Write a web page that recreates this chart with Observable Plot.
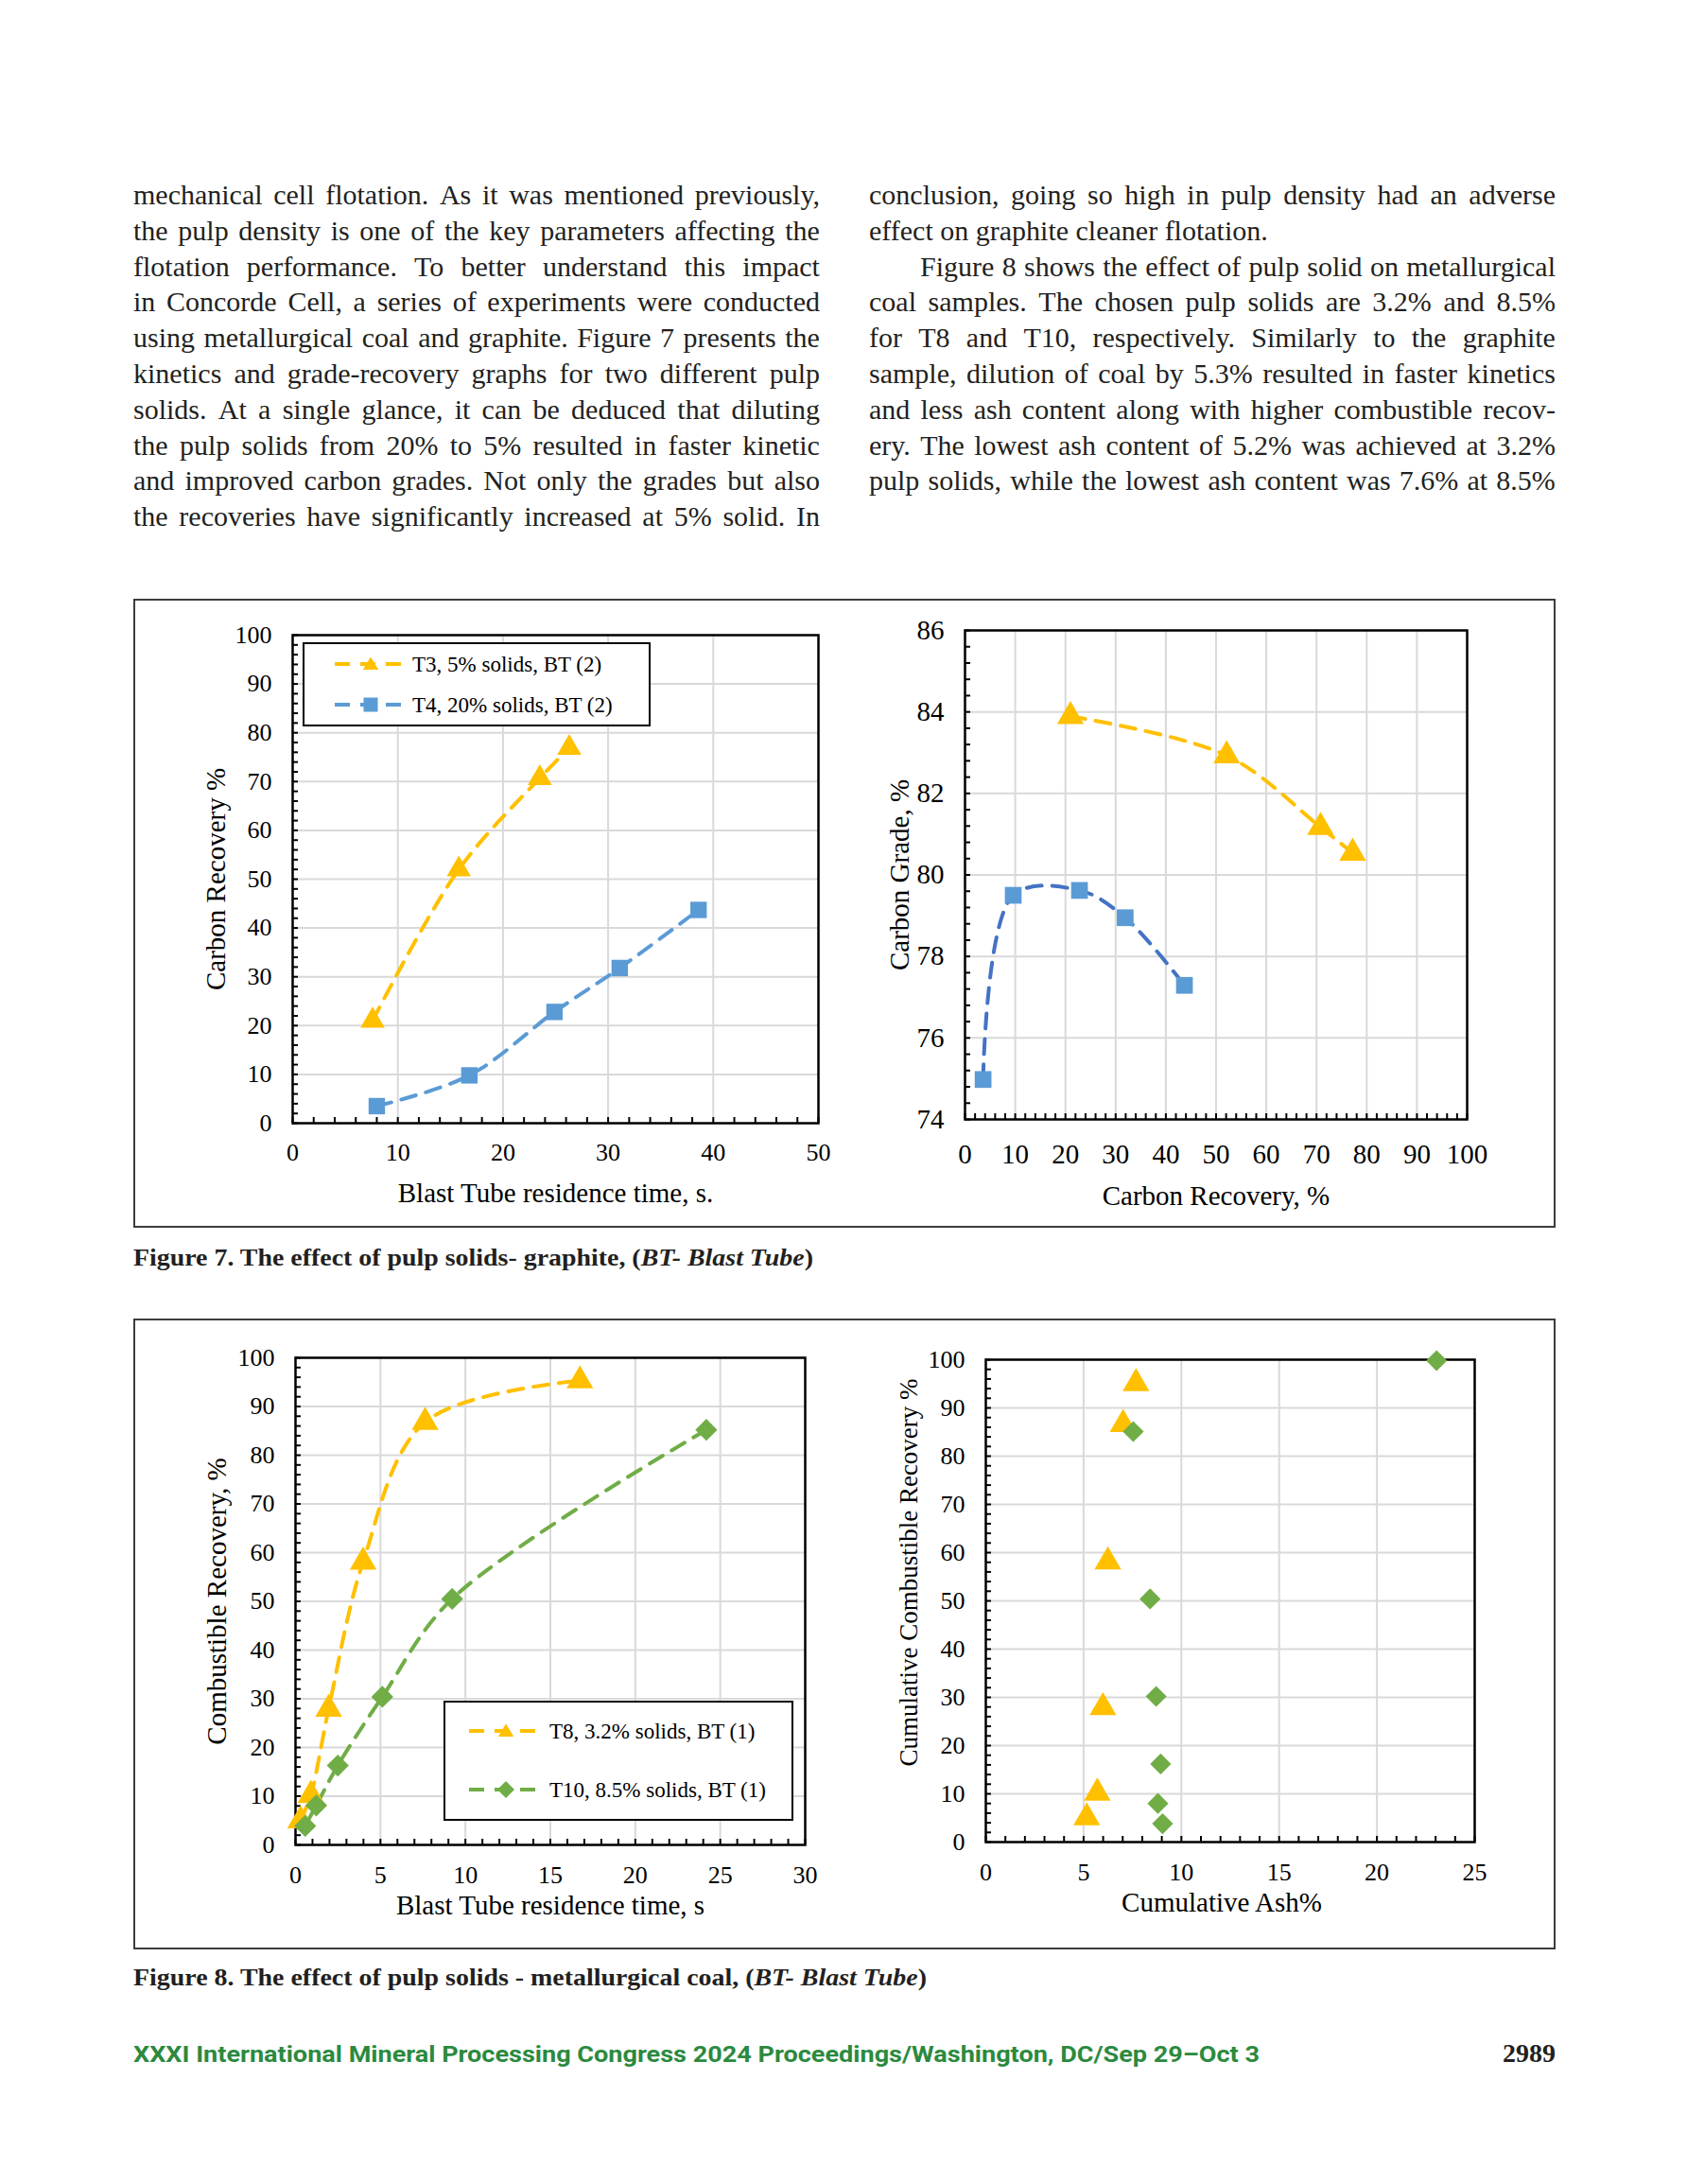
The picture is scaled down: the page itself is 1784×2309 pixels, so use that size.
<!DOCTYPE html>
<html>
<head>
<meta charset="utf-8">
<script src="https://cdn.jsdelivr.net/npm/d3@7"></script>
<script src="https://cdn.jsdelivr.net/npm/@observablehq/plot@0.6"></script>
<style>
  html, body { margin: 0; padding: 0; background: #fff; }
  #page { position: relative; width: 1784px; height: 2309px; background: #fff; overflow: hidden;
          font-family: "Liberation Serif", "Times New Roman", serif; color: #231f20; }
  .col { position: absolute; width: 726px; }
  .line { display: flex; justify-content: space-between; white-space: nowrap; height: 37.8px;
          line-height: 37.8px; font-size: 30px; box-sizing: border-box; }
  .line.last { justify-content: flex-start; gap: 0.25em; }
  .line.indent { padding-left: 54px; }
  .figbox { position: absolute; border: 2px solid #3c3c3c; box-sizing: border-box; }
  .caption { position: absolute; font-weight: bold; font-size: 25px; white-space: nowrap; transform-origin: left center; }
  .chart { position: absolute; }
  .legend { position: absolute; }
  #footer { position: absolute; left: 141px; font-family: Roboto, "Noto Sans", sans-serif; font-weight: 700;
            color: #2b8a3e; font-size: 24px; white-space: nowrap; transform-origin: left center; }
  #pageno { position: absolute; right: 139px; font-weight: bold; font-size: 28px; }
</style>
</head>
<body>
<div id="page"></div>
<script>
// ---------------- Text ----------------
const col1Lines = [
  "mechanical cell flotation. As it was mentioned previously,",
  "the pulp density is one of the key parameters affecting the",
  "flotation performance. To better understand this impact",
  "in Concorde Cell, a series of experiments were conducted",
  "using metallurgical coal and graphite. Figure 7 presents the",
  "kinetics and grade-recovery graphs for two different pulp",
  "solids. At a single glance, it can be deduced that diluting",
  "the pulp solids from 20% to 5% resulted in faster kinetic",
  "and improved carbon grades. Not only the grades but also",
  "the recoveries have significantly increased at 5% solid. In"
];
const col2Lines = [
  "conclusion, going so high in pulp density had an adverse",
  "effect on graphite cleaner flotation.",
  "Figure 8 shows the effect of pulp solid on metallurgical",
  "coal samples. The chosen pulp solids are 3.2% and 8.5%",
  "for T8 and T10, respectively. Similarly to the graphite",
  "sample, dilution of coal by 5.3% resulted in faster kinetics",
  "and less ash content along with higher combustible recov-",
  "ery. The lowest ash content of 5.2% was achieved at 3.2%",
  "pulp solids, while the lowest ash content was 7.6% at 8.5%"
];
const col2LastLines = [1];
const col2IndentLines = [2];
const caption7 = ["Figure 7. The effect of pulp solids- graphite, (", "BT- Blast Tube", ")"];
const caption8 = ["Figure 8. The effect of pulp solids - metallurgical coal, (", "BT- Blast Tube", ")"];
const footerText = "XXXI International Mineral Processing Congress 2024 Proceedings/Washington, DC/Sep 29–Oct 3";
const pageNumber = "2989";

// ---------------- Data: Figure 7 (graphite) ----------------
const seriesT3 = "T3, 5% solids, BT (2)";
const seriesT4 = "T4, 20% solids, BT (2)";
const kinTimeT3 = [7.6, 15.8, 23.5, 26.3];
const kinRecT3  = [21.0, 52.0, 70.7, 76.9];
const kinTimeT4 = [8.0, 16.8, 24.9, 31.1, 38.6];
const kinRecT4  = [3.5, 9.8, 22.8, 31.8, 43.7];
const grRecT3   = [21.0, 52.1, 70.8, 77.2];
const grGradeT3 = [83.89, 82.93, 81.17, 80.54];
const grRecT4   = [3.6, 9.6, 22.8, 31.9, 43.7];
const grGradeT4 = [74.98, 79.5, 79.62, 78.95, 77.29];

// ---------------- Data: Figure 8 (metallurgical coal) ----------------
const seriesT8 = "T8, 3.2% solids, BT (1)";
const seriesT10 = "T10, 8.5% solids, BT (1)";
const kinTimeT8  = [0.3, 0.9, 1.95, 3.98, 7.63, 16.74];
const kinRecT8   = [5.0, 10.2, 27.9, 58.1, 86.8, 95.3];
const kinTimeT10 = [0.57, 1.22, 2.49, 5.11, 9.22, 24.18];
const kinRecT10  = [3.9, 8.1, 16.3, 30.4, 50.5, 85.2];
const ashT8      = [5.16, 5.7, 5.99, 6.24, 7.02, 7.68];
const cumRecT8   = [5.1, 10.2, 27.9, 58.1, 86.6, 95.1];
const ashT10     = [9.04, 8.8, 8.94, 8.71, 8.4, 7.54, 23.05];
const cumRecT10  = [3.8, 8.0, 16.2, 30.2, 50.4, 85.1, 99.8];

// ---------------- Axis ticks ----------------
const c1xTicks = [0, 10, 20, 30, 40, 50];
const c1yTicks = [0, 10, 20, 30, 40, 50, 60, 70, 80, 90, 100];
const c2xTicks = [0, 10, 20, 30, 40, 50, 60, 70, 80, 90, 100];
const c2yTicks = [74, 76, 78, 80, 82, 84, 86];
const c3xTicks = [0, 5, 10, 15, 20, 25, 30];
const c3yTicks = [0, 10, 20, 30, 40, 50, 60, 70, 80, 90, 100];
const c4xTicks = [0, 5, 10, 15, 20, 25];
const c4yTicks = [0, 10, 20, 30, 40, 50, 60, 70, 80, 90, 100];

// colours
const ORANGE = "#FFC000", BLUE = "#5B9BD5", BLUE_DARK = "#4472C4", GREEN = "#70AD47";

const page = document.getElementById("page");

// ---------------- Body text ----------------
function addColumn(lines, left, lastIdx, indentIdx) {
  const col = document.createElement("div");
  col.className = "col";
  col.style.left = left + "px";
  col.style.top = "187px";
  lines.forEach((txt, i) => {
    const ln = document.createElement("div");
    ln.className = "line";
    if (lastIdx.includes(i)) ln.classList.add("last");
    if (indentIdx.includes(i)) ln.classList.add("indent");
    txt.split(" ").forEach(w => {
      const s = document.createElement("span");
      s.textContent = w;
      ln.appendChild(s);
    });
    col.appendChild(ln);
  });
  page.appendChild(col);
  // shrink any line whose words would not fit with a minimal word gap
  col.querySelectorAll(".line").forEach(ln => {
    const spans = [...ln.children];
    const avail = 726 - (ln.classList.contains("indent") ? 54 : 0);
    const fs = 30;
    const total = spans.reduce((s, e) => s + e.getBoundingClientRect().width, 0);
    const need = total + fs * 0.18 * (spans.length - 1);
    if (need > avail) ln.style.fontSize = (fs * avail / need) + "px";
  });
}
addColumn(col1Lines, 141, [], []);
addColumn(col2Lines, 919, col2LastLines, col2IndentLines);

// ---------------- Figure boxes & captions ----------------
function box(left, top, w, h) {
  const b = document.createElement("div");
  b.className = "figbox";
  Object.assign(b.style, {left: left + "px", top: top + "px", width: w + "px", height: h + "px"});
  page.appendChild(b);
}
box(141, 633, 1504, 665);
box(141, 1394, 1504, 667);

function caption(parts, top, targetW) {
  const c = document.createElement("div");
  c.className = "caption";
  c.style.left = "141px";
  c.style.top = top + "px";
  const a = document.createElement("span"); a.textContent = parts[0];
  const b = document.createElement("i"); b.textContent = parts[1];
  const d = document.createElement("span"); d.textContent = parts[2];
  c.append(a, b, d);
  page.appendChild(c);
  const w = c.getBoundingClientRect().width;
  c.style.transform = `scaleX(${targetW / w})`;
}

// ---------------- Charts ----------------
function makeChart(cfg) {
  const pw = cfg.width - cfg.ml - cfg.mr, ph = cfg.height - cfg.mt - cfg.mb;
  const xs = cfg.xDomain[1] - cfg.xDomain[0], ys = cfg.yDomain[1] - cfg.yDomain[0];
  const tl = 6;
  const inner = (arr, dom) => arr.filter(v => v > dom[0] && v < dom[1]);
  const marks = [
    Plot.ruleX(inner(cfg.xTicks, cfg.xDomain), {x: d => d, stroke: "#d9d9d9", strokeWidth: 2}),
    Plot.ruleY(inner(cfg.yTicks, cfg.yDomain), {y: d => d, stroke: "#d9d9d9", strokeWidth: 2}),
    Plot.frame({stroke: "#000", strokeWidth: 2.5}),
    Plot.ruleX(cfg.xMinor, {x: d => d, y1: cfg.yDomain[0], y2: cfg.yDomain[0] + tl * ys / ph, stroke: "#000", strokeWidth: 2}),
    Plot.ruleY(cfg.yMinor, {y: d => d, x1: cfg.xDomain[0], x2: cfg.xDomain[0] + tl * xs / pw, stroke: "#000", strokeWidth: 2}),
    Plot.axisX({ticks: cfg.xTicks, tickSize: 0, tickPadding: cfg.xPad, fontSize: cfg.tickFont, label: null, tickFormat: d => String(d), fill: "#000"}),
    Plot.axisY({ticks: cfg.yTicks, tickSize: 0, tickPadding: cfg.yPad, fontSize: cfg.tickFont, label: null, tickFormat: d => String(d), fill: "#000"}),
    Plot.text([cfg.xTitle], {frameAnchor: "bottom", dy: cfg.xTitleDy, dx: cfg.xTitleDx || 0, fontSize: cfg.xTitleFont, fill: "#000",
      textAnchor: "middle", lineAnchor: "middle", text: d => d}),
    Plot.text([cfg.yTitle], {frameAnchor: "left", rotate: -90, dx: cfg.yTitleDx, dy: cfg.yTitleDy || 0, fontSize: cfg.yTitleFont, fill: "#000",
      textAnchor: "middle", lineAnchor: "middle", text: d => d}),
  ];
  for (const s of cfg.series) {
    const data = d3.zip(s.x, s.y).map(([x, y]) => ({x, y}));
    if (s.line) marks.push(Plot.line(data, {x: "x", y: "y", curve: "catmull-rom", stroke: s.lineColor || s.color,
      strokeWidth: 4, strokeDasharray: "16,11"}));
  }
  for (const s of cfg.series) {
    const data = d3.zip(s.x, s.y).map(([x, y]) => ({x, y}));
    marks.push(Plot.dot(data, {x: "x", y: "y", symbol: s.symbol, r: s.r, fill: s.color, stroke: "none"}));
  }
  const svg = Plot.plot({
    width: cfg.width, height: cfg.height,
    marginLeft: cfg.ml, marginRight: cfg.mr, marginTop: cfg.mt, marginBottom: cfg.mb,
    x: {domain: cfg.xDomain},
    y: {domain: cfg.yDomain},
    style: {fontFamily: "'Liberation Serif', 'Times New Roman', serif", fontSize: cfg.tickFont + "px",
            color: "#000", background: "transparent", overflow: "visible"},
    marks
  });
  const wrap = document.createElement("div");
  wrap.className = "chart";
  wrap.style.left = cfg.left + "px";
  wrap.style.top = cfg.top + "px";
  wrap.appendChild(svg);
  page.appendChild(wrap);
}

const range = (a, b, s) => d3.range(a, b + s / 2, s).map(v => +v.toFixed(4));

// Chart 1: kinetics graphite
makeChart({
  left: 150, top: 640, width: 740, height: 640, ml: 159, mr: 25, mt: 31, mb: 93,
  xDomain: [0, 50], yDomain: [0, 100], xTicks: c1xTicks, yTicks: c1yTicks,
  xMinor: range(0, 50, 2), yMinor: range(0, 100, 2),
  tickFont: 26, xPad: 21, yPad: 22,
  xTitle: "Blast Tube residence time, s.", xTitleDy: 74, xTitleFont: 29,
  yTitle: "Carbon Recovery %", yTitleDx: -81, yTitleFont: 29,
  series: [
    {x: kinTimeT3, y: kinRecT3, color: ORANGE, symbol: "triangle", r: 9.5, line: true},
    {x: kinTimeT4, y: kinRecT4, color: BLUE, symbol: "square", r: 9.8, line: true}
  ]
});

// Chart 2: grade-recovery graphite
makeChart({
  left: 900, top: 640, width: 740, height: 640, ml: 120, mr: 89, mt: 26, mb: 97,
  xDomain: [0, 100], yDomain: [74, 86], xTicks: c2xTicks, yTicks: c2yTicks,
  xMinor: range(0, 100, 2), yMinor: range(74, 86, 0.4),
  tickFont: 29, xPad: 26, yPad: 22,
  xTitle: "Carbon Recovery, %", xTitleDy: 81, xTitleFont: 29,
  yTitle: "Carbon Grade, %", yTitleDx: -69, yTitleFont: 29,
  series: [
    {x: grRecT3, y: grGradeT3, color: ORANGE, symbol: "triangle", r: 10.5, line: true},
    {x: grRecT4, y: grGradeT4, color: BLUE, lineColor: BLUE_DARK, symbol: "square", r: 10, line: true}
  ]
});

// Chart 3: kinetics coal
makeChart({
  left: 150, top: 1400, width: 740, height: 650, ml: 162, mr: 39, mt: 35, mb: 100,
  xDomain: [0, 30], yDomain: [0, 100], xTicks: c3xTicks, yTicks: c3yTicks,
  xMinor: range(0, 30, 1), yMinor: range(0, 100, 2),
  tickFont: 26, xPad: 22, yPad: 22,
  xTitle: "Blast Tube residence time, s", xTitleDy: 64, xTitleFont: 29,
  yTitle: "Combustible Recovery, %", yTitleDx: -83, yTitleFont: 29,
  series: [
    {x: kinTimeT8, y: kinRecT8, color: ORANGE, symbol: "triangle", r: 10.5, line: true},
    {x: kinTimeT10, y: kinRecT10, color: GREEN, symbol: "diamond2", r: 10.5, line: true}
  ]
});

// Chart 4: cumulative recovery vs ash
makeChart({
  left: 900, top: 1400, width: 740, height: 650, ml: 142, mr: 81, mt: 37, mb: 103,
  xDomain: [0, 25], yDomain: [0, 100], xTicks: c4xTicks, yTicks: c4yTicks,
  xMinor: range(0, 25, 1), yMinor: range(0, 100, 2),
  tickFont: 26, xPad: 22, yPad: 22,
  xTitle: "Cumulative Ash%", xTitleDy: 64, xTitleDx: -9, xTitleFont: 29,
  yTitle: "Cumulative Combustible Recovery %", yTitleDx: -81, yTitleDy: -30, yTitleFont: 27,
  series: [
    {x: ashT8, y: cumRecT8, color: ORANGE, symbol: "triangle", r: 10.5, line: false},
    {x: ashT10, y: cumRecT10, color: GREEN, symbol: "diamond2", r: 10, line: false}
  ]
});

// ---------------- Legends ----------------
function markerPath(symbol, cx, cy, size) {
  const h = size / 2;
  if (symbol === "triangle") return `<polygon points="${cx},${cy - h} ${cx + h * 1.1},${cy + h * 0.8} ${cx - h * 1.1},${cy + h * 0.8}"/>`;
  if (symbol === "square") return `<rect x="${cx - h}" y="${cy - h}" width="${size}" height="${size}"/>`;
  return `<polygon points="${cx},${cy - h * 1.2} ${cx + h * 1.2},${cy} ${cx},${cy + h * 1.2} ${cx - h * 1.2},${cy}"/>`;
}
function legend(cfg) {
  const w = cfg.w, h = cfg.h;
  let inner = `<rect x="1" y="1" width="${w - 2}" height="${h - 2}" fill="#fff" stroke="#000" stroke-width="2"/>`;
  cfg.items.forEach(it => {
    const y = it.y;
    inner += `<line x1="${cfg.lx1}" x2="${cfg.lx2}" y1="${y}" y2="${y}" stroke="${it.color}" stroke-width="4" stroke-dasharray="16,11"/>`;
    inner += `<g fill="${it.color}">${markerPath(it.symbol, cfg.mx, y, 15)}</g>`;
    inner += `<text x="${cfg.tx}" y="${y}" dy="0.35em" font-size="23" font-family="'Liberation Serif', serif" fill="#000">${it.label}</text>`;
  });
  const d = document.createElement("div");
  d.className = "legend";
  d.style.left = cfg.left + "px";
  d.style.top = cfg.top + "px";
  d.innerHTML = `<svg width="${w}" height="${h}" xmlns="http://www.w3.org/2000/svg">${inner}</svg>`;
  page.appendChild(d);
}
legend({left: 320, top: 679, w: 368, h: 89, lx1: 34, lx2: 110, mx: 72, tx: 116,
  items: [{y: 23, color: ORANGE, symbol: "triangle", label: seriesT3},
          {y: 66, color: BLUE, symbol: "square", label: seriesT4}]});
legend({left: 469, top: 1798, w: 370, h: 127, lx1: 27, lx2: 105, mx: 66, tx: 112,
  items: [{y: 32, color: ORANGE, symbol: "triangle", label: seriesT8},
          {y: 94, color: GREEN, symbol: "diamond", label: seriesT10}]});

// ---------------- Captions & footer ----------------
caption(caption7, 1316, 719);
caption(caption8, 2077, 839);

const foot = document.createElement("div");
foot.id = "footer";
foot.textContent = footerText;
foot.style.top = "2158px";
page.appendChild(foot);
const fw = foot.getBoundingClientRect().width;
foot.style.transform = `scaleX(${1191 / fw})`;

const pn = document.createElement("div");
pn.id = "pageno";
pn.textContent = pageNumber;
pn.style.top = "2155px";
page.appendChild(pn);
</script>
</body>
</html>
